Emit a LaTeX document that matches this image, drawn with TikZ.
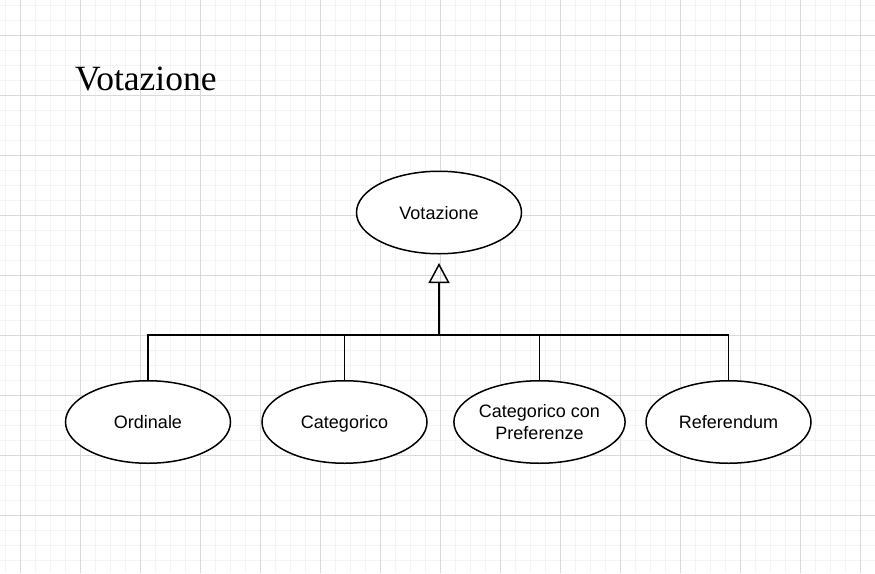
\documentclass[tikz,border=0pt]{standalone}
\usepackage{fontspec}
\setmainfont{Liberation Sans}
\newfontfamily\titlefont{Liberation Serif}
\usetikzlibrary{shapes.geometric,arrows.meta}
\definecolor{gminor}{HTML}{F4F4F4}
\definecolor{gmajor}{HTML}{D9D9D9}
\tikzset{
  entity/.style={draw=black, line width=1.5pt, fill=white, ellipse, minimum width=165pt, minimum height=82.5pt, inner sep=0pt, align=center, text height=13pt, text depth=0pt, font=\fontsize{18}{21.6}\selectfont},
  twoline/.style={text height={}, text depth={}},
  link/.style={draw=black, line width=1.5pt},
}
\begin{document}
\begin{tikzpicture}[x=1pt,y=-1pt]
\useasboundingbox (0,0) rectangle (875,573);
\fill[white] (0,0) rectangle (875,573);
% minor grid
\foreach \x in {5,20,...,875} \draw[gminor, line width=1pt] (\x,0) -- (\x,573);
\foreach \y in {5,20,...,573} \draw[gminor, line width=1pt] (0,\y) -- (875,\y);
% major grid
\foreach \x in {20,80,...,875} \draw[gmajor, line width=1pt] (\x,0) -- (\x,573);
\foreach \y in {35,95,...,573} \draw[gmajor, line width=1pt] (0,\y) -- (875,\y);

\node[anchor=base west, inner sep=0pt, font=\titlefont\fontsize{35.5}{42}\selectfont] (title) at (75,90) {Votazione};

\node[entity] (vot) at (439,212.5) {Votazione};
\node[entity] (ord) at (148,422) {Ordinale};
\node[entity] (cat) at (344.5,422) {Categorico};
\node[entity, twoline] (catp) at (539.5,422) {Categorico con\\Preferenze};
\node[entity] (ref) at (728.5,422) {Referendum};

\coordinate (j) at (439,335);
\draw[link, -{Triangle[open, length=20pt, width=21pt]}, shorten >=8.5pt] (j) -- (vot.south);
\draw[link] (ord.north) |- (j);
\draw[link] (cat.north) |- (j);
\draw[link] (catp.north) |- (j);
\draw[link] (ref.north) |- (j);
\end{tikzpicture}
\end{document}
